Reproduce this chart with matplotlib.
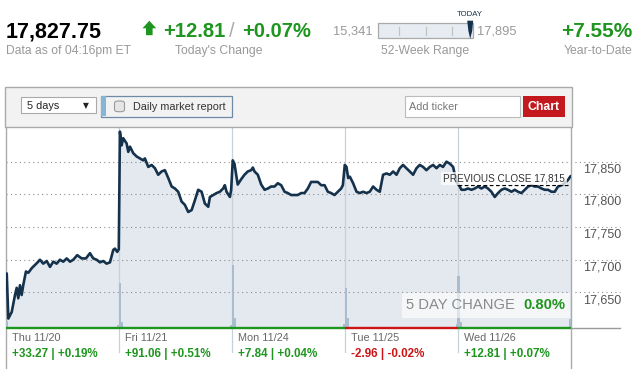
import matplotlib
matplotlib.use("Agg")
import matplotlib.pyplot as plt
import matplotlib.transforms as mtransforms
from matplotlib.patches import Rectangle, Polygon, FancyBboxPatch

plt.rcParams['font.family'] = ['Liberation Sans', 'DejaVu Sans']

# ---- data ----
last_price = 17827.75
today_chg = 12.81
today_pct = 0.07
ytd_pct = 7.55
week52_low = 15341
week52_high = 17895
prev_close = 17815
five_day_pct = 0.80

days = ["Thu 11/20", "Fri 11/21", "Mon 11/24", "Tue 11/25", "Wed 11/26"]
day_chg = [33.27, 91.06, 7.84, -2.96, 12.81]
day_pct = [0.19, 0.51, 0.04, -0.02, 0.07]

yticks = [17650, 17700, 17750, 17800, 17850]

# time in trading sessions since Thu open
times = [
    0.004, 0.018, 0.048, 0.077, 0.092, 0.106, 0.121, 0.136, 0.150, 0.174,
    0.195, 0.225, 0.254, 0.283, 0.298, 0.327, 0.358, 0.387, 0.416, 0.446,
    0.475, 0.504, 0.535, 0.564, 0.593, 0.628, 0.667, 0.705, 0.741, 0.770,
    0.800, 0.829, 0.858, 0.888, 0.918, 0.947, 0.962, 0.982, 0.996,
    1.006, 1.021, 1.035, 1.065, 1.080, 1.095, 1.124, 1.154, 1.183, 1.212,
    1.227, 1.257, 1.287, 1.316, 1.345, 1.375, 1.404, 1.434, 1.464, 1.493,
    1.522, 1.552, 1.581, 1.611, 1.641, 1.670, 1.699, 1.729, 1.758, 1.788,
    1.803, 1.832, 1.862, 1.891, 1.920, 1.935, 1.950, 1.980, 1.991,
    2.005, 2.020, 2.049, 2.079, 2.109, 2.138, 2.168, 2.183, 2.198, 2.227,
    2.257, 2.287, 2.316, 2.345, 2.375, 2.404, 2.434, 2.464, 2.493, 2.522,
    2.552, 2.581, 2.611, 2.641, 2.670, 2.699, 2.729, 2.758, 2.788, 2.818,
    2.847, 2.876, 2.906, 2.935, 2.965, 2.980,
    2.997, 3.012, 3.027, 3.042, 3.071, 3.101, 3.130, 3.159, 3.189, 3.218,
    3.248, 3.278, 3.307, 3.336, 3.366, 3.396, 3.425, 3.455, 3.484, 3.513,
    3.543, 3.572, 3.602, 3.632, 3.661, 3.690, 3.720, 3.750, 3.779, 3.809,
    3.838, 3.867, 3.897, 3.927, 3.956, 3.986,
    4.015, 4.030, 4.059, 4.088, 4.119, 4.148, 4.177, 4.207, 4.237, 4.265,
    4.295, 4.325, 4.354, 4.384, 4.413, 4.442, 4.473, 4.502, 4.531, 4.561,
    4.590, 4.620, 4.650, 4.679, 4.708, 4.738, 4.768, 4.797, 4.827, 4.856,
    4.885, 4.915, 4.944, 4.973, 4.997,
]
prices = [
    17679, 17610, 17620, 17646, 17657, 17641, 17661, 17646, 17661, 17682,
    17680, 17687, 17692, 17697, 17700, 17694, 17698, 17689, 17697, 17694,
    17700, 17697, 17702, 17697, 17700, 17707, 17702, 17702, 17710, 17702,
    17700, 17696, 17698, 17694, 17696, 17715, 17717, 17712, 17716,
    17896, 17875, 17886, 17878, 17865, 17873, 17863, 17858, 17855, 17852,
    17855, 17842, 17845, 17840, 17830, 17835, 17837, 17825, 17812, 17809,
    17804, 17789, 17784, 17773, 17776, 17791, 17807, 17804, 17786, 17781,
    17796, 17799, 17802, 17804, 17809, 17814, 17804, 17796, 17807,
    17852, 17847, 17815, 17823, 17830, 17835, 17837, 17841, 17835, 17830,
    17815, 17807, 17809, 17812, 17812, 17817, 17814, 17804, 17802, 17799,
    17799, 17799, 17802, 17802, 17809, 17819, 17819, 17819, 17814, 17814,
    17804, 17802, 17799, 17804, 17809, 17814,
    17845, 17842, 17825, 17827, 17817, 17804, 17802, 17804, 17802, 17804,
    17812, 17807, 17804, 17830, 17832, 17830, 17835, 17830, 17840, 17845,
    17840, 17835, 17830, 17840, 17845, 17842, 17837, 17842, 17845, 17840,
    17845, 17842, 17850, 17847, 17842, 17819,
    17812, 17807, 17807, 17809, 17807, 17809, 17812, 17809, 17812, 17809,
    17804, 17796, 17802, 17807, 17809, 17807, 17804, 17807, 17804, 17802,
    17807, 17812, 17814, 17812, 17812, 17809, 17807, 17807, 17804, 17804,
    17812, 17814, 17817, 17822, 17828,
]

# volume spikes (millions of shares)
vol_times = [0.005, 0.99, 1.005, 1.022, 1.99, 2.005, 2.022, 2.99, 3.005, 3.022,
             3.99, 4.005, 4.022, 4.99]
volumes = [14, 6, 90, 12, 6, 125, 20, 8, 79, 19, 8, 103, 12, 18]

# ---- styling ----
GREEN = '#1e951e'
RED = '#cc1414'
GRAY = '#999999'
NAVY = '#15324d'

W, H = 643, 369
fig = plt.figure(figsize=(W / 100, H / 100), dpi=100)
fig.patch.set_facecolor('white')


def fx(x):
    return x / W


def fy(y):
    return 1 - y / H


def ftext(x, y, s, **kw):
    kw.setdefault('va', 'baseline')
    return fig.text(fx(x), fy(y), s, **kw)


def frect(x0, y0, x1, y1, **kw):
    r = Rectangle((fx(x0), fy(y1)), fx(x1) - fx(x0), fy(y0) - fy(y1),
                  transform=fig.transFigure, **kw)
    fig.add_artist(r)
    return r


# ---- header ----
ftext(6, 37.3, f"{last_price:,.2f}", fontsize=15.5, fontweight='bold', color='black')
ftext(6, 54, "Data as of 04:16pm ET", fontsize=8.7, color=GRAY)

arrow = Polygon([(fx(149.3), fy(20.7)), (fx(156.2), fy(28.3)), (fx(152.6), fy(28.3)),
                 (fx(152.6), fy(35.2)), (fx(146.0), fy(35.2)), (fx(146.0), fy(28.3)),
                 (fx(142.5), fy(28.3))], closed=True, transform=fig.transFigure,
                fc=GREEN, ec='none')
fig.add_artist(arrow)
ftext(162.7, 37.3, f"{today_chg:+.2f}", fontsize=14.5, fontweight='bold', color=GREEN)
ftext(229.3, 37.3, "/", fontsize=14.5, color='#aaaaaa')
ftext(241.7, 37.3, f"{today_pct:+.2f}%", fontsize=14.5, fontweight='bold', color=GREEN)
ftext(218.7, 54, "Today's Change", fontsize=8.8, color=GRAY, ha='center')

# 52-week range
ftext(373, 35, f"{week52_low:,}", fontsize=9.3, color=GRAY, ha='right')
ftext(477.3, 35, f"{week52_high:,}", fontsize=9.3, color=GRAY)
bx0, bx1 = 377.7, 472.7
frect(bx0, 23.3, bx1, 38.3, fc='#e7ecf2', ec='#aaaaaa', lw=0.9)
for tx in [399.3, 426.0, 451.7]:
    fig.add_artist(plt.Line2D([fx(tx), fx(tx)], [fy(26.7), fy(35)],
                              transform=fig.transFigure, color='#b9c6b9', lw=0.9))
mx = bx0 + (last_price - week52_low) / (week52_high - week52_low) * (bx1 - bx0)
marker = Polygon([(fx(mx - 3), fy(20.7)), (fx(mx + 3), fy(20.7)), (fx(mx + 2), fy(31)),
                  (fx(mx), fy(38.8)), (fx(mx - 1.8), fy(31))], closed=True,
                 transform=fig.transFigure, fc=NAVY, ec='none')
fig.add_artist(marker)
ftext(mx, 16, "TODAY", fontsize=5.6, color=NAVY, ha='center')
ftext(425.2, 54, "52-Week Range", fontsize=8.8, color=GRAY, ha='center')

ftext(632, 37.3, f"{ytd_pct:+.2f}%", fontsize=15, fontweight='bold', color=GREEN, ha='right')
ftext(632.3, 54, "Year-to-Date", fontsize=8.8, color=GRAY, ha='right')

# ---- toolbar ----
frect(5, 87, 572, 127.3, fc='#f2f2f2', ec='#aaaaaa', lw=1)
frect(21.3, 96.7, 95.5, 113.3, fc='white', ec='#aaaaaa', lw=0.8)
ftext(27, 109, "5 days", fontsize=7.8, color='#222222')
ftext(86, 108.5, "\u25bc", fontsize=5.5, color='#222222', ha='center',
      family=['DejaVu Sans'])
frect(101, 96, 231.5, 116.7, fc='#f2f2f2', ec='#6f8aa6', lw=0.9)
frect(101.4, 96.4, 105.5, 116.3, fc='#86b6d6', ec='none')
cb = FancyBboxPatch((fx(114.5), fy(111.7)), fx(124.5) - fx(114.5), fy(101) - fy(111.7),
                    boxstyle='round,pad=0,rounding_size=0.006', transform=fig.transFigure,
                    fc='#e6e6e6', ec='#9a9a9a', lw=0.8)
fig.add_artist(cb)
ftext(133, 110.3, "Daily market report", fontsize=7.8, color='#333333')
frect(405, 96, 520, 116.5, fc='white', ec='#bbbbbb', lw=0.8)
ftext(408.6, 110.3, "Add ticker", fontsize=7.8, color='#777777')
frect(522.5, 96, 564.5, 116.5, fc='#c3191e', ec='none')
ftext(543.5, 110.3, "Chart", fontsize=8.8, fontweight='bold', color='white', ha='center')

# ---- chart ----
L, R, T, B = 6.3, 571.0, 127.3, 327.7
rect = [fx(L), fy(B), fx(R) - fx(L), fy(T) - fy(B)]
ymin, ymax = 17596, 17902.6

ax = fig.add_axes(rect)
ax.set_axis_off()
ax.set_xlim(0, 5)
ax.set_ylim(ymin, ymax)
ax.fill_between(times, prices, ymin, color='#e4e9f0', lw=0, zorder=1)

x_ext = (620 - L) / (R - L) * 5  # gridlines run under the tick labels
for v in yticks:
    ax.plot([0, x_ext], [v, v], ls=(0, (1, 3)), color='#8c8c8c', lw=0.8,
            clip_on=False, zorder=1.5)
lab_off = mtransforms.ScaledTranslation(12 / 100, -10.6 / 100, fig.dpi_scale_trans)
lab_tr = mtransforms.blended_transform_factory(ax.transAxes, ax.transData) + lab_off
for v in yticks:
    ax.text(1, v, f"{v:,}", transform=lab_tr, fontsize=9, color='#555555',
            ha='left', va='baseline')

vtr = mtransforms.blended_transform_factory(ax.transData, ax.transAxes)
for i in range(1, len(days)):
    ax.plot([i, i], [1, -0.12], transform=vtr, color='#c8d0d9', lw=0.9,
            clip_on=False, zorder=1.6)
for xb in [0, 5]:
    ax.plot([xb, xb], [1, -0.21], transform=vtr, color='#aaaaaa', lw=1,
            clip_on=False, zorder=1.6)

axv = fig.add_axes(rect)
axv.set_axis_off()
axv.set_xlim(0, 5)
axv.set_ylim(0, 400)
axv.bar(vol_times, volumes, width=0.02, color='#aabdcf', lw=0)

axl = fig.add_axes(rect)
axl.set_axis_off()
axl.set_xlim(0, 5)
axl.set_ylim(ymin, ymax)
axl.plot(times, prices, color=NAVY, lw=1.9, solid_joinstyle='round',
         solid_capstyle='round', zorder=3)
axl.plot([4, 5], [prev_close, prev_close], color='black', ls=(0, (3, 2)), lw=0.9, zorder=4)
pc_off = mtransforms.ScaledTranslation(0, 3.3 / 100, fig.dpi_scale_trans)
axl.text((565 - L) / (R - L) * 5, prev_close, f"PREVIOUS CLOSE {prev_close:,}",
         transform=axl.transData + pc_off, fontsize=7.2, color='#333333',
         ha='right', va='baseline', zorder=5,
         bbox=dict(fc='white', ec='none', alpha=0.75, pad=1.2))

for i, c in enumerate(day_chg):
    axl.plot([i, i + 1], [ymin, ymin], color=GREEN if c > 0 else RED, lw=1.7,
             clip_on=False, zorder=6, solid_capstyle='butt')
axl.plot([5, x_ext], [ymin, ymin], color='#9a9a9a', lw=1, clip_on=False, zorder=6)

# five day change box
frect(401.7, 293.3, 570, 318.3, fc='white', ec='none', alpha=0.6, zorder=7)
ftext(406, 309.3, "5 DAY CHANGE", fontsize=10.6, color='#8a8a8a', zorder=8)
ftext(565.7, 309.3, f"{five_day_pct:.2f}%", fontsize=10.6, fontweight='bold',
      color=GREEN, ha='right', zorder=8)

# day labels under the chart
dtr = mtransforms.blended_transform_factory(ax.transData, fig.transFigure) + \
    mtransforms.ScaledTranslation(5.5 / 100, 0, fig.dpi_scale_trans)
for i, (d, c, p) in enumerate(zip(days, day_chg, day_pct)):
    ax.text(i, fy(341), d, transform=dtr, fontsize=7.8, color='#666666', va='baseline')
    ax.text(i, fy(357), f"{c:+.2f} | {p:+.2f}%", transform=dtr, fontsize=8.4,
            fontweight='bold', color=GREEN if c > 0 else RED, va='baseline')

fig.savefig("out.png", dpi=100)
